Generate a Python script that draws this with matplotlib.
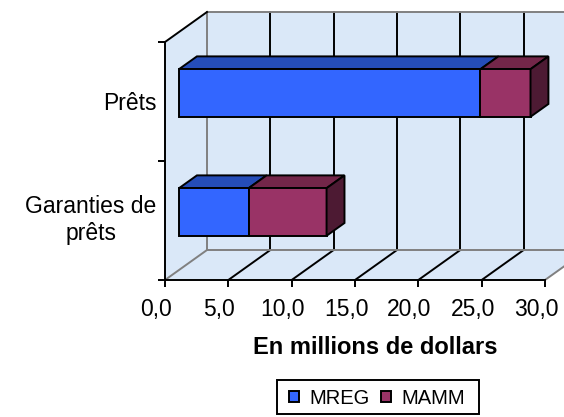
import matplotlib
matplotlib.use("Agg")
import matplotlib.pyplot as plt
from matplotlib.patches import Patch, Polygon, Rectangle
from matplotlib.transforms import ScaledTranslation

plt.rcParams['font.family'] = ['Liberation Sans', 'DejaVu Sans']

categories = ["Garanties de\nprêts", "Prêts"]
mreg = [5.5, 23.8]
mamm = [6.15, 3.95]
x_ticks = [0, 5, 10, 15, 20, 25, 30]
x_labels = ["0,0", "5,0", "10,0", "15,0", "20,0", "25,0", "30,0"]
x_title = "En millions de dollars"

W, H = 564, 417
fig = plt.figure(figsize=(W / 100, H / 100), dpi=100)
ax = fig.add_axes([165 / W, (H - 280) / H, 380 / W, 238 / H])
ax.set_xlim(0, 30)
ax.set_ylim(0, 2)
ax.patch.set_visible(False)

# 3d look: how far the back wall is shifted, in data units
DX = 42 / 380 * 30
DY = 30 / 238 * 2
wall = "#DAE8F8"
grey = "#808080"
LW = 1.4


def pt(x, y, d):
    return (x + d * DX, y + d * DY)


def face(points, color, ec="black", lw=LW, z=1):
    ax.add_patch(Polygon(points, closed=True, fc=color, ec=ec, lw=lw, zorder=z,
                         clip_on=False, joinstyle="miter"))


def seg(a, b, color):
    ax.plot(*zip(a, b), color=color, lw=LW, zorder=2, clip_on=False)


# walls and floor
face([pt(0, 0, 1), pt(30, 0, 1), pt(30, 2, 1), pt(0, 2, 1)], wall, "none", 0, 1)
face([pt(0, 0, 0), pt(0, 2, 0), pt(0, 2, 1), pt(0, 0, 1)], wall, "none", 0, 1)
face([pt(0, 0, 0), pt(30, 0, 0), pt(30, 0, 1), pt(0, 0, 1)], wall, "none", 0, 1)

for t in x_ticks:
    if t in (0, 30):
        continue
    seg(pt(t, 0, 0), pt(t, 0, 1), "black")
    seg(pt(t, 0, 1), pt(t, 2, 1), "black")
seg(pt(0, 2, 1), pt(30, 2, 1), grey)
seg(pt(0, 0, 1), pt(30, 0, 1), grey)
seg(pt(0, 0, 1), pt(0, 2, 1), grey)
seg(pt(30, 0, 0), pt(30, 0, 1), grey)
seg(pt(0, 0, 0), pt(0, 0, 1), grey)
seg(pt(0, 2, 0), pt(0, 2, 1), "black")

# bars
d0, d1 = 1 / 3, 0.76
half = 0.2
series = [
    (mreg, "#3366FF", "#254DB8", "#1A3380"),
    (mamm, "#993366", "#732649", "#4D1A33"),
]
for i in range(len(categories)):
    yc = i + 0.4875
    left = 0
    for vals, front, top, side in series:
        right = left + vals[i]
        lo, hi = yc - half, yc + half
        face([pt(left, hi, d0), pt(right, hi, d0), pt(right, hi, d1), pt(left, hi, d1)], top, z=3)
        face([pt(left, lo, d0), pt(right, lo, d0), pt(right, hi, d0), pt(left, hi, d0)], front, z=4)
        left = right
    face([pt(right, lo, d0), pt(right, lo, d1), pt(right, hi, d1), pt(right, hi, d0)], side, z=4)

for s in ("top", "right"):
    ax.spines[s].set_visible(False)
for s in ("left", "bottom"):
    ax.spines[s].set_linewidth(LW)
    ax.spines[s].set_zorder(5)

ax.set_xticks(x_ticks)
ax.set_xticklabels(x_labels, fontsize=16.5)
ax.set_yticks([0, 1, 2])
ax.set_yticklabels([])
ax.set_yticks([0.54, 1.505], labels=categories, minor=True, fontsize=16.5, multialignment="center")
ax.tick_params(axis="y", which="minor", length=0, pad=6)
ax.tick_params(axis="both", which="major", length=5, width=LW, color="black")
ax.tick_params(axis="x", pad=8)
shift = ScaledTranslation(-9 / 100, 0, fig.dpi_scale_trans)
for lab in ax.get_xticklabels():
    lab.set_transform(lab.get_transform() + shift)

fig.text(375 / W, (H - 347) / H, x_title, fontsize=17, fontweight="bold", ha="center", va="center")

# legend box is drawn apart, the real one is wider than matplotlib's padding gives
fig.add_artist(Rectangle((277 / W, (H - 414) / H), 202 / W, 34 / H, transform=fig.transFigure,
                         fc="white", ec="black", lw=LW))
handles = [Patch(fc="#3366FF", ec="black", lw=LW, label="MREG"),
           Patch(fc="#993366", ec="black", lw=LW, label="MAMM")]
leg = fig.legend(handles=handles, loc="center", bbox_to_anchor=(377 / W, (H - 398) / H), ncol=2,
                 fontsize=14.5, frameon=False,
                 handlelength=0.5, handleheight=0.5, handletextpad=0.5, columnspacing=0.6,
                 borderpad=0.45)
leg.set_zorder(5)

fig.savefig("out.png", dpi=100)
